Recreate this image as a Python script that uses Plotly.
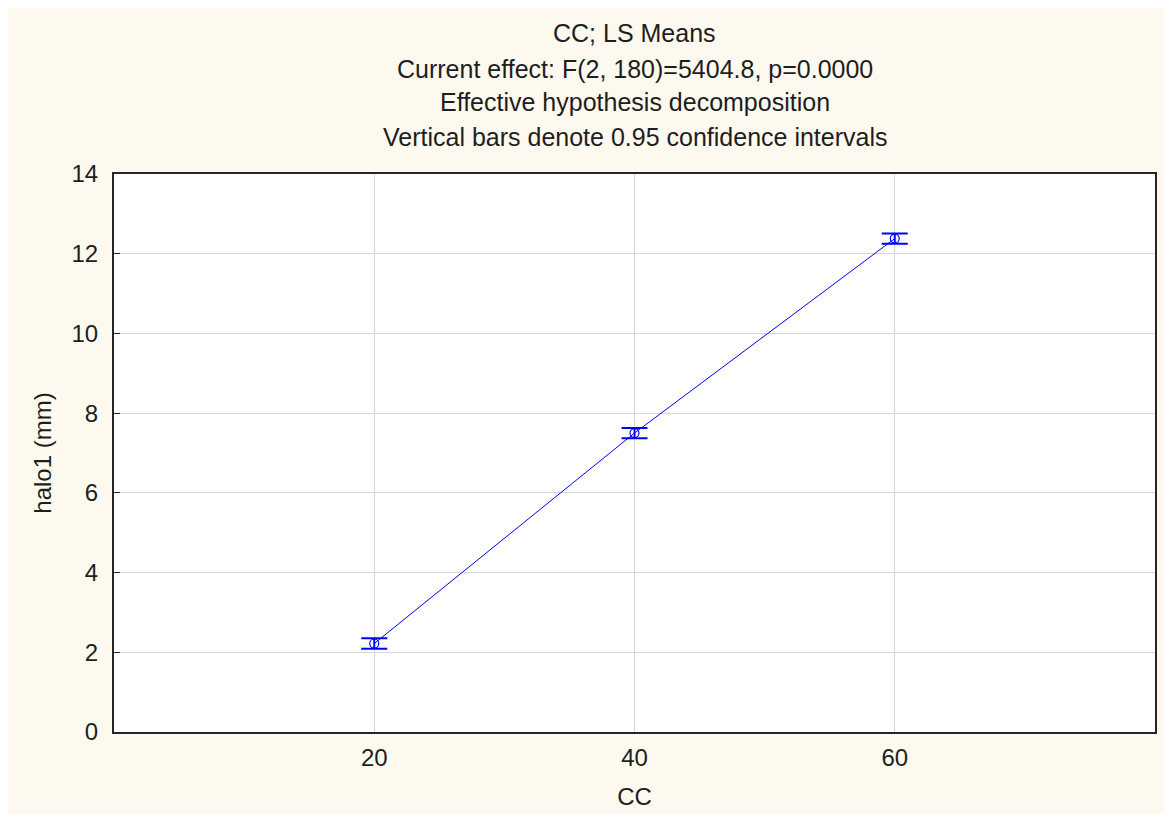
import plotly.graph_objects as go

cc = [20, 40, 60]
means = [2.22, 7.50, 12.38]
ci = [0.13, 0.13, 0.13]
title_lines = [
    "CC; LS Means",
    "Current effect: F(2, 180)=5404.8, p=0.0000",
    "Effective hypothesis decomposition",
    "Vertical bars denote 0.95 confidence intervals",
]
x_ticks = [20, 40, 60]
y_ticks = [0, 2, 4, 6, 8, 10, 12, 14]

BLUE = "#0000ff"
CREAM = "#fdf9ee"
FONT = "Liberation Sans, Arial, sans-serif"
TXT = "#1e1e1e"

fig = go.Figure()
fig.add_trace(go.Scatter(
    x=cc, y=means, mode="lines+markers",
    line=dict(color=BLUE, width=1),
    marker=dict(symbol="circle-open", size=9, color=BLUE, line=dict(width=1.2, color=BLUE)),
    error_y=dict(type="data", array=ci, visible=True, color=BLUE, thickness=2, width=13),
    showlegend=False,
))

ys = [33, 69, 102, 137]
for t, yp in zip(title_lines, ys):
    fig.add_annotation(text=t, xref="paper", yref="paper", x=0.5, xanchor="center",
                       y=1 + (174 - yp) / 558, yanchor="middle", showarrow=False,
                       font=dict(family=FONT, size=25, color=TXT))

fig.update_layout(
    width=1164, height=806,
    margin=dict(l=106, r=17, t=166, b=82, autoexpand=False),
    paper_bgcolor=CREAM, plot_bgcolor="white",
    font=dict(family=FONT, size=24, color=TXT),
    xaxis=dict(range=[0, 80], tickvals=x_ticks, showgrid=True, gridcolor="#d6d6d6", gridwidth=1,
               showline=True, mirror=True, linecolor="#262626", linewidth=2,
               ticks="", zeroline=False, tickfont=dict(size=24), ticklabelstandoff=3,
               automargin=False,
               title=dict(text="CC", font=dict(size=24), standoff=18)),
    yaxis=dict(range=[0, 14], tickvals=y_ticks, showgrid=True, gridcolor="#d6d6d6", gridwidth=1,
               showline=True, mirror=True, linecolor="#262626", linewidth=2,
               ticks="inside", ticklen=6, tickcolor="#262626", zeroline=False,
               tickfont=dict(size=24), ticklabelstandoff=9, automargin=False,
               title=dict(text="halo1 (mm)", font=dict(size=24), standoff=13)),
)

fig.write_html("out.html")
